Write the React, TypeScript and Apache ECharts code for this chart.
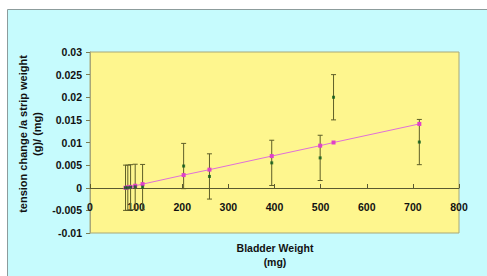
import React, { useEffect, useRef } from "react";
import * as echarts from "echarts";

const weights = [77, 82, 88, 98, 114, 203, 259, 394, 499, 528, 714];
const observed = [0, 0, 0.0001, 0.0002, 0.00015, 0.0048, 0.0025, 0.0055, 0.0066, 0.02, 0.0101];
const errors = [0.005, 0.005, 0.005, 0.005, 0.005, 0.005, 0.005, 0.005, 0.005, 0.005, 0.005];
const fitted = [0, 0.0001, 0.0002, 0.00045, 0.0008, 0.0028, 0.004, 0.007, 0.0093, 0.01, 0.0141];
const yTitle = ["tension change /a strip weight", "(g)/ (mg)"];
const xTitle = ["Bladder Weight", "(mg)"];

const FONT = "Arial, 'Liberation Sans', sans-serif";

export default function App() {
  const ref = useRef<HTMLDivElement>(null);
  useEffect(() => {
    if (!ref.current) return;
    const chart = echarts.init(ref.current, undefined, { renderer: "svg" });
    const errData = weights.map((w, i) => [w, observed[i] - errors[i], observed[i] + errors[i]]);
    chart.setOption({
      animation: false,
      backgroundColor: "#ffffff",
      graphic: [
        {
          type: "rect",
          z: -10,
          shape: { x: 7.5, y: 9.5, width: 500, height: 300 },
          style: { fill: "#c6fbfd", stroke: "#8c9c9c", lineWidth: 1 },
        },
        {
          type: "text",
          x: 23,
          y: 134,
          rotation: Math.PI / 2,
          style: {
            text: yTitle[0],
            font: `bold 11px ${FONT}`,
            fill: "#111",
            align: "center",
            verticalAlign: "middle",
          },
        },
        {
          type: "text",
          x: 37,
          y: 134,
          rotation: Math.PI / 2,
          style: {
            text: yTitle[1],
            font: `bold 11px ${FONT}`,
            fill: "#111",
            align: "center",
            verticalAlign: "middle",
          },
        },
        {
          type: "text",
          x: 275,
          y: 248,
          style: {
            text: xTitle[0],
            font: `bold 10.5px ${FONT}`,
            fill: "#111",
            align: "center",
            verticalAlign: "middle",
          },
        },
        {
          type: "text",
          x: 275,
          y: 262,
          style: {
            text: xTitle[1],
            font: `bold 10.5px ${FONT}`,
            fill: "#111",
            align: "center",
            verticalAlign: "middle",
          },
        },
      ],
      grid: {
        left: 90,
        top: 52,
        right: 28,
        bottom: 43,
        show: true,
        backgroundColor: "#fef68e",
        borderColor: "#a8a878",
        borderWidth: 1,
      },
      xAxis: {
        type: "value",
        min: 0,
        max: 800,
        interval: 100,
        offset: -45,
        axisLine: { show: true, onZero: false, lineStyle: { color: "#5a5a30", width: 1 } },
        axisTick: { show: true, inside: true, length: 4, lineStyle: { color: "#5a5a30" } },
        axisLabel: {
          margin: 13,
          color: "#111",
          fontWeight: "bold",
          fontSize: 10.5,
          fontFamily: FONT,
        },
        splitLine: { show: false },
      },
      yAxis: {
        type: "value",
        min: -0.01,
        max: 0.03,
        interval: 0.005,
        axisLine: { show: true, onZero: false, lineStyle: { color: "#a8a878" } },
        axisTick: { show: true, inside: false, length: 4, lineStyle: { color: "#7a7a50" } },
        axisLabel: {
          margin: 8,
          color: "#111",
          fontWeight: "bold",
          fontSize: 10.5,
          fontFamily: FONT,
          formatter: (v: number) => String(+v.toFixed(4)),
        },
        splitLine: { show: false },
      },
      series: [
        {
          type: "custom",
          z: 3,
          data: errData,
          renderItem: (params: any, api: any) => {
            const x = api.value(0);
            const lo = api.coord([x, api.value(1)]);
            const hi = api.coord([x, api.value(2)]);
            const cap = 2.5;
            const style = { stroke: "#5e5e28", lineWidth: 1 };
            return {
              type: "group",
              children: [
                { type: "line", shape: { x1: lo[0], y1: lo[1], x2: hi[0], y2: hi[1] }, style },
                { type: "line", shape: { x1: lo[0] - cap, y1: lo[1], x2: lo[0] + cap, y2: lo[1] }, style },
                { type: "line", shape: { x1: hi[0] - cap, y1: hi[1], x2: hi[0] + cap, y2: hi[1] }, style },
              ],
            };
          },
        },
        {
          type: "line",
          z: 4,
          data: weights.map((w, i) => [w, fitted[i]]),
          symbol: "rect",
          symbolSize: 4,
          lineStyle: { color: "#e070d8", width: 1 },
          itemStyle: { color: "#e040c8" },
        },
        {
          type: "scatter",
          z: 5,
          data: weights.map((w, i) => [w, observed[i]]),
          symbol: "rect",
          symbolSize: 3,
          itemStyle: { color: "#0a5a1a" },
        },
      ],
    });
    return () => chart.dispose();
  }, []);
  return <div ref={ref} style={{ position: "fixed", left: 0, top: 0, width: 487, height: 276 }} />;
}
